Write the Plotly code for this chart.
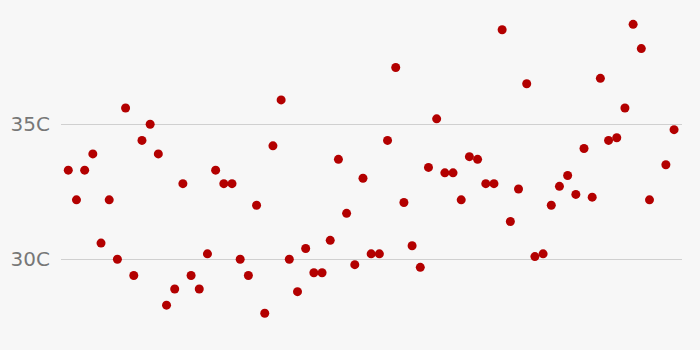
import plotly.graph_objects as go

# Daily temperature readings (°C); None = missing reading
day_index = list(range(75))
temps = [
    33.3, 32.2, 33.3, 33.9, 30.6, 32.2, 30.0, 35.6, 29.4, 34.4,
    35.0, 33.9, 28.3, 28.9, 32.8, 29.4, 28.9, 30.2, 33.3, 32.8,
    32.8, 30.0, 29.4, 32.0, 28.0, 34.2, 35.9, 30.0, 28.8, 30.4,
    29.5, 29.5, 30.7, 33.7, 31.7, 29.8, 33.0, 30.2, 30.2, 34.4,
    37.1, 32.1, 30.5, 29.7, 33.4, 35.2, 33.2, 33.2, 32.2, 33.8,
    33.7, 32.8, 32.8, 38.5, 31.4, 32.6, 36.5, 30.1, 30.2, 32.0,
    32.7, 33.1, 32.4, 34.1, 32.3, 36.7, 34.4, 34.5, 35.6, 38.7,
    37.8, 32.2, None, 33.5, 34.8,
]
tick_values = [30, 35]
tick_labels = ["30C", "35C"]

fig = go.Figure(
    go.Scatter(
        x=day_index,
        y=temps,
        mode="markers",
        marker=dict(color="#b30000", size=9, line=dict(width=0)),
        hoverinfo="y",
    )
)

fig.update_layout(
    width=700,
    height=350,
    margin=dict(l=61, r=18, t=0, b=0),
    paper_bgcolor="#f7f7f7",
    plot_bgcolor="#f7f7f7",
    showlegend=False,
    font=dict(family="DejaVu Sans", color="#777777"),
)
fig.update_xaxes(
    range=[-0.89, 74.97],
    showgrid=False,
    zeroline=False,
    showticklabels=False,
    showline=False,
)
fig.update_yaxes(
    range=[26.64, 39.6],
    tickvals=tick_values,
    ticktext=tick_labels,
    tickfont=dict(size=20, color="#777777"),
    showgrid=True,
    gridcolor="#d0d0d0",
    gridwidth=1,
    zeroline=False,
    showline=False,
    ticks="",
    ticklabelstandoff=10,
)

fig.write_html("out.html")
